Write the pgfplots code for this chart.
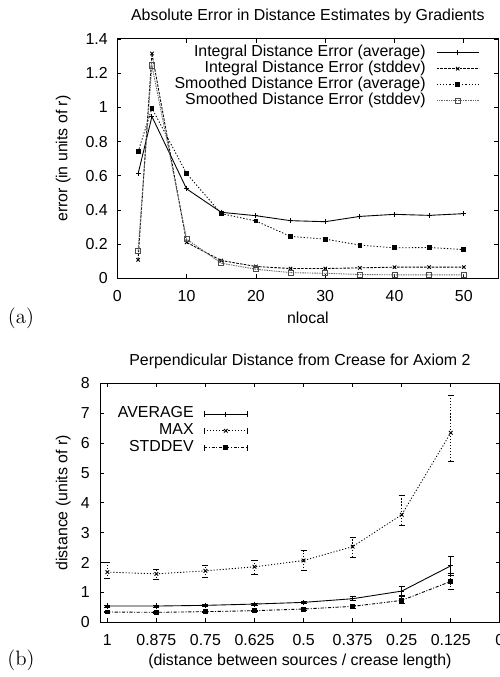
\documentclass[border=0pt]{standalone}
\usepackage{fontspec}
\setsansfont{Liberation Sans}
\usepackage{pgfplots}
\pgfplotsset{compat=1.18}
\begin{document}
\begin{tikzpicture}
\useasboundingbox (0pt,0pt) rectangle (311.875pt,423.125pt);
\pgfplotsset{
  gp/.style={
    scale only axis,
    font=\sffamily\fontsize{9.94}{11}\selectfont,
    tick label style={font=\sffamily\fontsize{9.94}{11}\selectfont},
    tick align=inside,
    major tick length=2.6pt,
    tick style={line width=0.5pt, black},
    axis line style={line width=0.6pt},
    legend cell align=right,
    legend plot pos=right,
    legend style={draw=none, fill=none, inner sep=0pt, outer sep=0pt, column sep=0pt,
      font=\sffamily\fontsize{9.94}{11}\selectfont},
  },
}
% ---------- (a) ----------
\begin{axis}[gp,
  at={(73.3pt,249.2pt)}, anchor=south west,
  width=238.25pt, height=149.56pt,
  xmin=0, xmax=55, ymin=0, ymax=1.4,
  xtick={0,10,20,30,40,50}, xticklabels={0,10,20,30,40,50},
  ytick={0,0.2,0.4,0.6,0.8,1,1.2,1.4}, yticklabels={0,0.2,0.4,0.6,0.8,1,1.2,1.4},
  yticklabel style={xshift=-2.5pt},
  xticklabel style={yshift=-3.8pt},
  title={Absolute Error in Distance Estimates by Gradients},
  title style={at={(axis description cs:0.5,1.1003)}, anchor=center, yshift=-6.9pt},
  xlabel={nlocal},
  xlabel style={at={(axis description cs:0.5,-0.1658)}, anchor=center},
  ylabel={error (in units of r)},
  ylabel style={at={(axis description cs:-0.1417,0.5)}, anchor=center},
  legend style={at={(1,1)}, anchor=north east, xshift=-12pt, yshift=-3.6pt,
    nodes={inner sep=0.2pt, text height=7.3pt, text depth=2.3pt}},
  legend image code/.code={\path (0pt,0pt); \draw[mark repeat=2,mark phase=2,#1] plot coordinates {(6.4pt,0pt) (19.6pt,0pt) (32.8pt,0pt)};},
]
\addplot[black, line width=0.55pt, mark=+, mark size=1.6pt, mark options={solid}]
  coordinates {(3,0.611) (5,0.946) (10,0.523) (15,0.386) (20,0.366) (25,0.337) (30,0.331) (35,0.362) (40,0.374) (45,0.368) (50,0.378)};
\addlegendentry{Integral Distance Error (average)}
\addplot[black, line width=0.55pt, dash pattern=on 1.6pt off 0.8pt, mark=x, mark size=1.5pt, mark options={solid}]
  coordinates {(3,0.108) (5,1.315) (10,0.21) (15,0.104) (20,0.069) (25,0.057) (30,0.057) (35,0.061) (40,0.065) (45,0.065) (50,0.065)};
\addlegendentry{Integral Distance Error (stddev)}
\addplot[black, line width=0.55pt, dash pattern=on 0.8pt off 1.2pt, mark=square*, mark size=1.2pt, mark options={solid}]
  coordinates {(3,0.74) (5,0.995) (10,0.613) (15,0.378) (20,0.335) (25,0.245) (30,0.229) (35,0.194) (40,0.178) (45,0.18) (50,0.168)};
\addlegendentry{Smoothed Distance Error (average)}
\addplot[black!60, line width=0.55pt, dash pattern=on 0.9pt off 0.6pt, mark=square, mark size=1.6pt, mark options={solid, black!70}]
  coordinates {(3,0.159) (5,1.245) (10,0.229) (15,0.088) (20,0.053) (25,0.033) (30,0.029) (35,0.022) (40,0.02) (45,0.02) (50,0.02)};
\addlegendentry{Smoothed Distance Error (stddev)}
\end{axis}
% ---------- (b) ----------
\begin{axis}[gp,
  at={(62.5pt,34.19pt)}, anchor=south west,
  width=249.9pt, height=149.4pt,
  x dir=reverse, xmin=0, xmax=1.0186, ymin=0, ymax=8,
  xtick={1,0.875,0.75,0.625,0.5,0.375,0.25,0.125,0},
  xticklabels={1,0.875,0.75,0.625,0.5,0.375,0.25,0.125,0},
  ytick={0,1,2,3,4,5,6,7,8}, yticklabels={0,1,2,3,4,5,6,7,8},
  yticklabel style={xshift=-2.9pt},
  xticklabel style={yshift=-4.3pt},
  title={Perpendicular Distance from Crease for Axiom 2},
  title style={at={(axis description cs:0.5,1.1004)}, anchor=center, yshift=-7.4pt},
  xlabel={(distance between sources / crease length)},
  xlabel style={at={(axis description cs:0.5,-0.1648)}, anchor=center},
  ylabel={distance (units of r)},
  ylabel style={at={(axis description cs:-0.0918,0.5)}, anchor=center},
  legend style={at={(0,1)}, anchor=north west, xshift=11pt, yshift=-14pt,
    nodes={inner sep=0.2pt, text height=7.5pt, text depth=2.6pt}},
  legend image code/.code={\path (0pt,0pt);
    \draw[#1] (6.1pt,0pt)--(33.1pt,0pt);
    \draw[#1,solid] (6.1pt,-1.9pt)--(6.1pt,1.9pt);
    \draw[#1,solid] (33.1pt,-1.9pt)--(33.1pt,1.9pt);
    \draw[#1] plot coordinates {(19.6pt,0pt)};},
]
\addplot[black, line width=0.55pt, mark=+, mark size=1.6pt, mark options={solid},
  error bars/.cd, y dir=both, y explicit, error bar style={line width=0.5pt, solid},
  error mark options={rotate=90, mark size=1.9pt, solid}]
  coordinates {(1,0.544) +- (0,0.03) (0.875,0.544) +- (0,0.03) (0.75,0.567) +- (0,0.03) (0.625,0.61) +- (0,0.03)
    (0.5,0.667) +- (0,0.04) (0.375,0.789) +- (0,0.07) (0.25,1.044) +- (0,0.15) (0.125,1.889) +- (0,0.33)};
\addlegendentry{AVERAGE}
\addplot[black, line width=0.55pt, dash pattern=on 0.7pt off 1.2pt, mark=x, mark size=1.6pt, mark options={solid},
  error bars/.cd, y dir=both, y explicit, error bar style={line width=0.5pt, dash pattern=on 0.7pt off 1.2pt},
  error mark options={rotate=90, mark size=1.9pt, solid}]
  coordinates {(1,1.68) += (0,0.33) -= (0,0.2) (0.875,1.622) += (0,0.145) -= (0,0.178)
    (0.75,1.722) += (0,0.19) -= (0,0.22) (0.625,1.856) += (0,0.23) -= (0,0.25)
    (0.5,2.067) += (0,0.33) -= (0,0.32) (0.375,2.533) += (0,0.31) -= (0,0.37)
    (0.25,3.6) += (0,0.66) -= (0,0.37) (0.125,6.344) += (0,1.26) -= (0,0.97)};
\addlegendentry{MAX}
\addplot[black, line width=0.55pt, dash pattern=on 2pt off 1pt on 0.6pt off 1pt, mark=square*, mark size=1.2pt, mark options={solid},
  error bars/.cd, y dir=both, y explicit, error bar style={line width=0.5pt, dash pattern=on 2pt off 1pt on 0.6pt off 1pt},
  error mark options={rotate=90, mark size=1.9pt, solid}]
  coordinates {(1,0.344) +- (0,0.02) (0.875,0.333) +- (0,0.02) (0.75,0.356) +- (0,0.02) (0.625,0.389) +- (0,0.02)
    (0.5,0.444) +- (0,0.03) (0.375,0.533) +- (0,0.05) (0.25,0.733) += (0,0.134) -= (0,0.11) (0.125,1.367) += (0,0.277) -= (0,0.267)};
\addlegendentry{STDDEV}
\end{axis}
\node[font=\rmfamily\fontsize{13}{15}\selectfont] at (13.1pt,224.4pt) {(a)};
\node[font=\rmfamily\fontsize{13}{15}\selectfont] at (13.1pt,10.6pt) {(b)};
\end{tikzpicture}
\end{document}
